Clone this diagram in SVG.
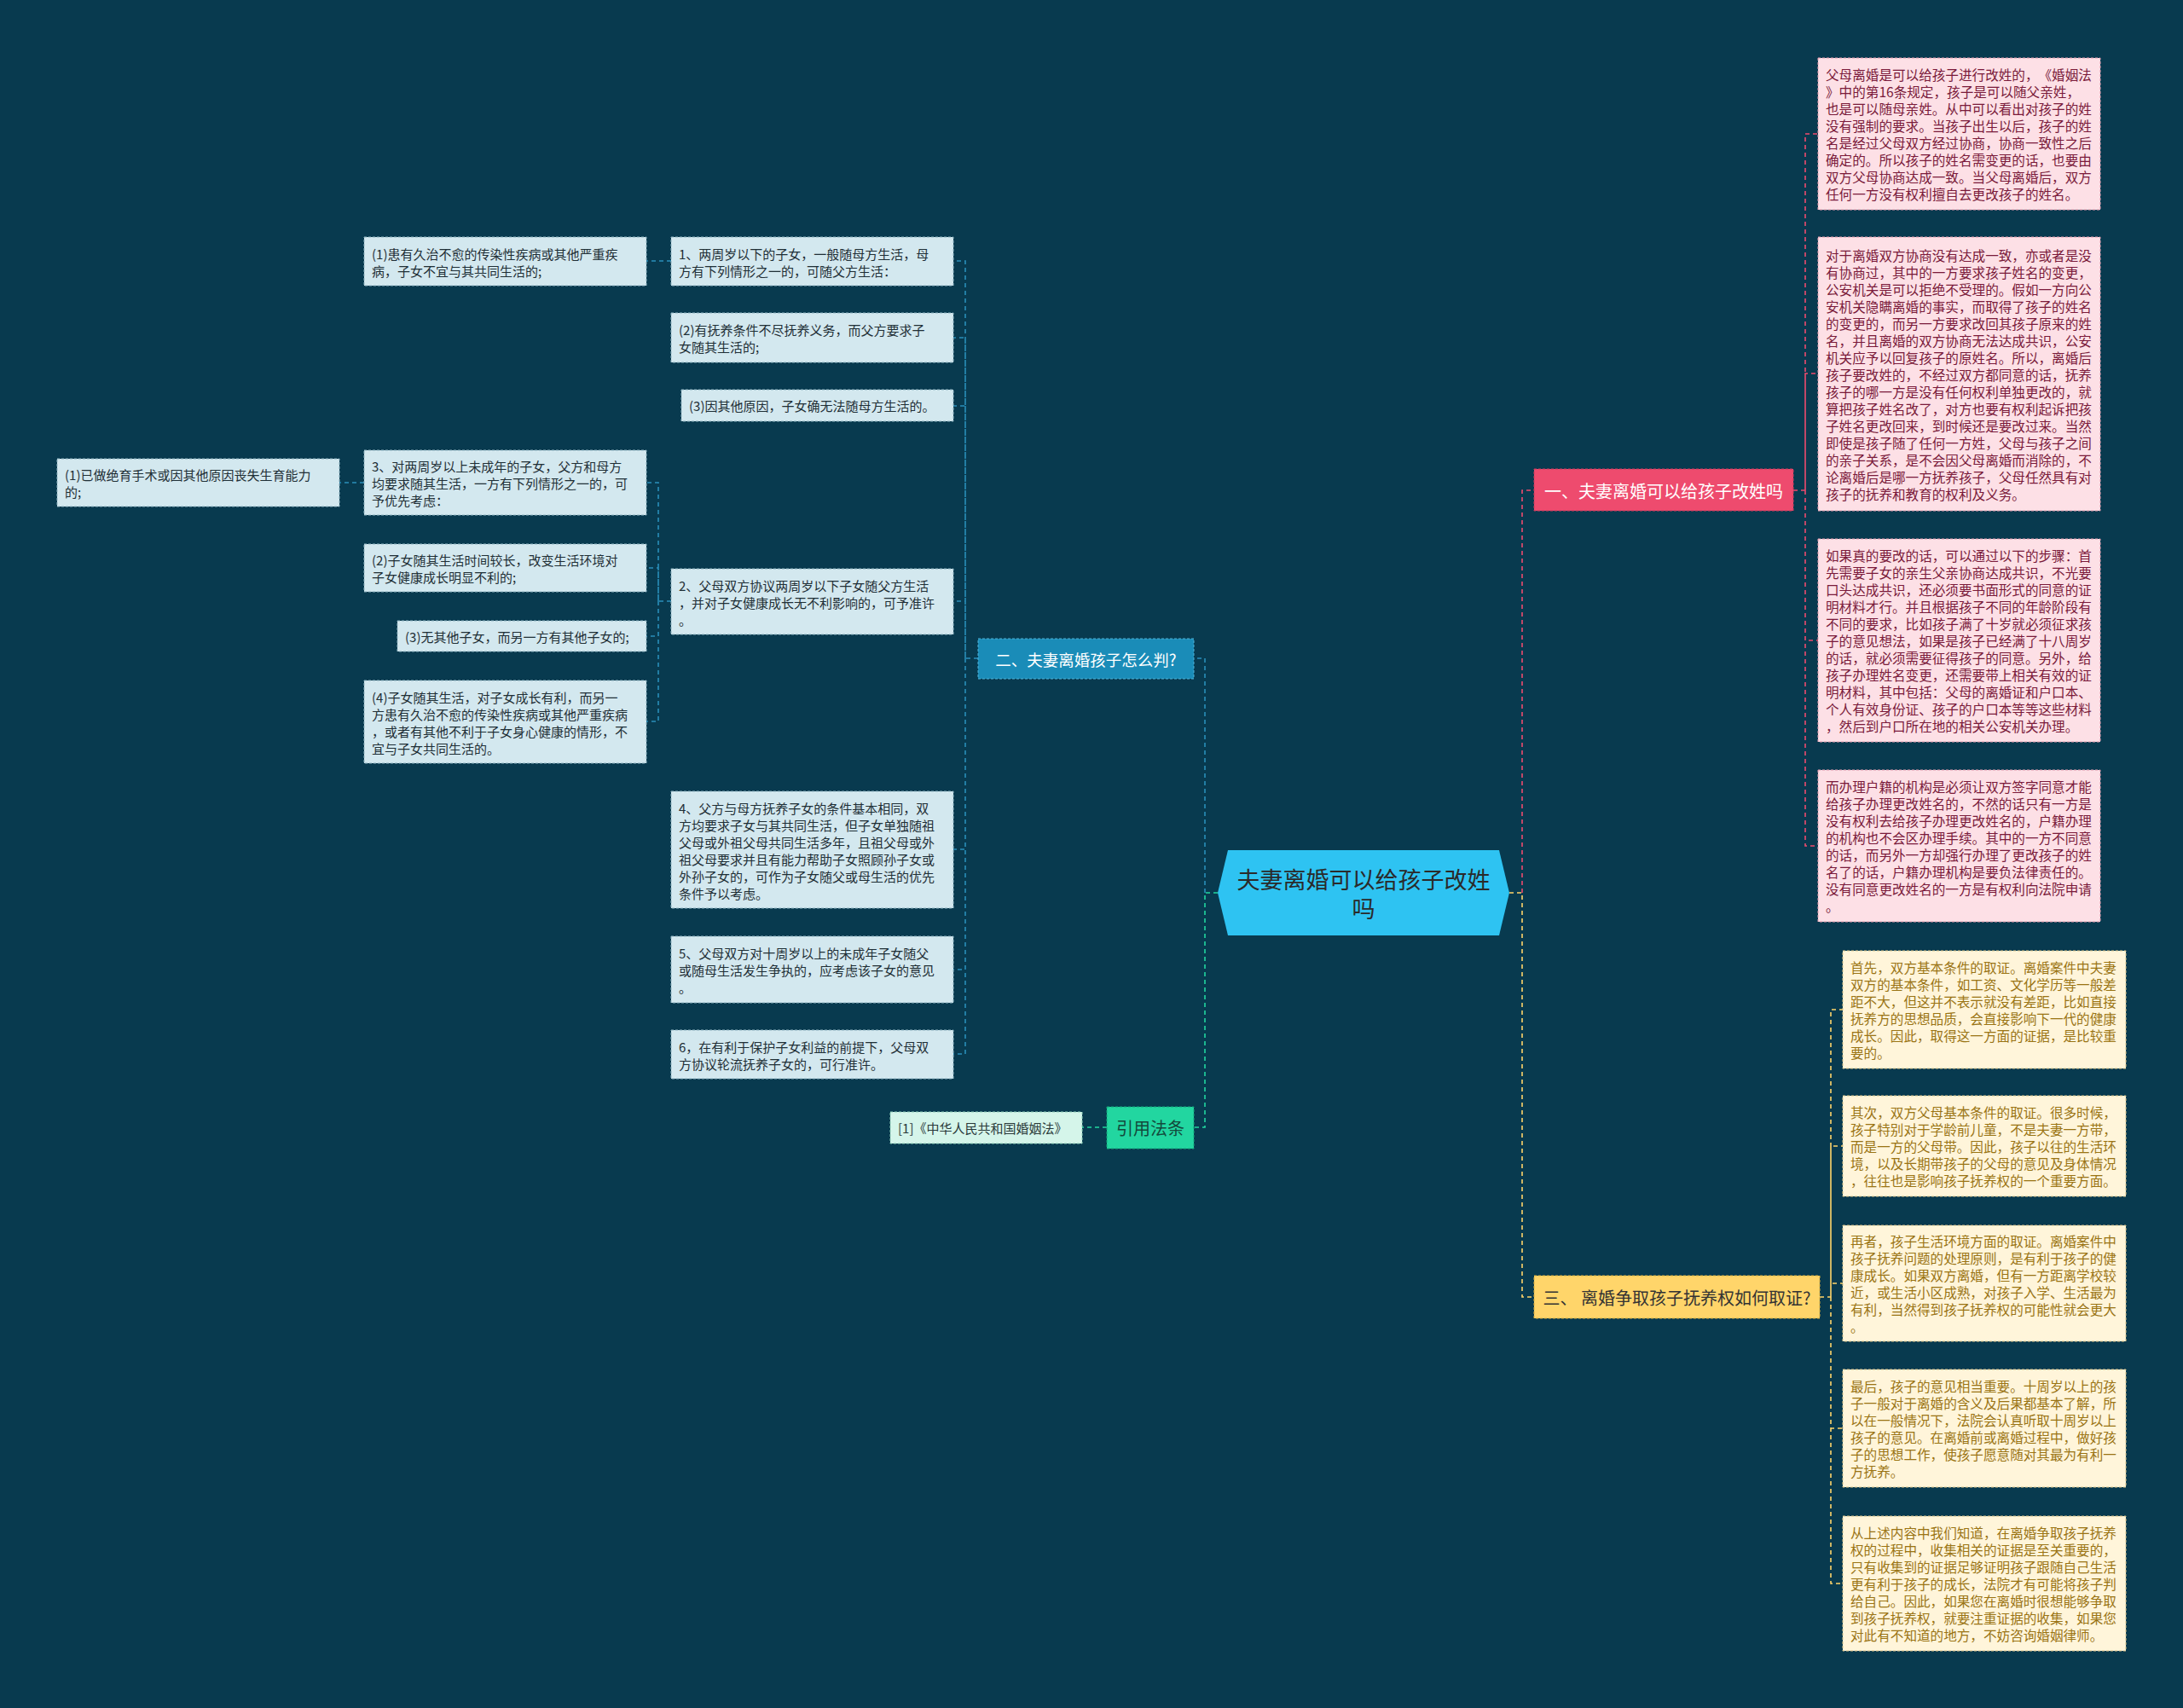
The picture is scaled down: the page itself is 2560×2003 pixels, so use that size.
<svg xmlns="http://www.w3.org/2000/svg" width="2560" height="2003" viewBox="0 0 2560 2003">
<style>
text{font-family:"Noto Sans CJK SC","Noto Sans",sans-serif;dominant-baseline:central;text-spacing-trim:space-all}
.pk rect{fill:#fde0e6;stroke:#e39aae;stroke-width:1;stroke-dasharray:3 2}
.pk text{fill:#7a1a3a;font-size:15.6px}
.yl rect{fill:#fff5da;stroke:#dcc488;stroke-width:1;stroke-dasharray:3 2}
.yl text{fill:#9a7414;font-size:15.6px}
.bl rect{fill:#d3e8ef;stroke:#8fb4c2;stroke-width:1;stroke-dasharray:3 2}
.bl text{fill:#1f2f36;font-size:15px}
.ln{fill:none;stroke-width:1.6;stroke-dasharray:5 4}
.lp{stroke:#ee4b6e}.ly{stroke:#ffd56a}.lb{stroke:#2a8fba}.lg{stroke:#22d6a0}
.br text{font-size:20px}
</style>
<rect width="2560" height="2003" fill="#083a4f"/>
<g id="connectors">
<path class="ln ly" d="M1770,1047 H1785 V1521 H1799"/>
<path class="ln lp" d="M1785,1047 V575 H1799"/>
<path class="ln lp" d="M2103,575 H2117 V157 H2132 M2117,575 V438 H2132 M2117,575 V751 H2132 M2117,575 V992 H2132"/>
<path class="ln ly" d="M2134,1521 H2147 V1184 H2161 M2147,1521 V1344 H2161 M2147,1521 V1505 H2161 M2147,1521 V1675 H2161 M2147,1521 V1857 H2161"/>
<path class="ln lg" d="M1428,1047 H1413 V1322 H1400"/>
<path class="ln lb" d="M1413,1047 V772 H1400"/>
<path class="ln lg" d="M1298,1322 H1269"/>
<path class="ln lb" d="M1147,772 H1132 V306 H1118 M1132,772 V396 H1118 M1132,772 V476 H1118 M1132,772 V705 H1118 M1132,772 V996 H1118 M1132,772 V1137 H1118 M1132,772 V1236 H1118"/>
<path class="ln lb" d="M787,306 H758"/>
<path class="ln lb" d="M787,705 H772 V566 H758 M772,705 V666 H758 M772,705 V746 H758 M772,705 V846 H758"/>
<path class="ln lb" d="M427,566 H398"/>
</g>
<g id="center">
<polygon points="1428,1047 1440,997 1758,997 1770,1047 1758,1097 1440,1097" fill="#2ec3f2"/>
<text x="1599" y="1030" text-anchor="middle" font-size="27" fill="#2a2a2a">夫妻离婚可以给孩子改姓</text>
<text x="1599" y="1064" text-anchor="middle" font-size="27" fill="#2a2a2a">吗</text>
</g>
<g id="branch1" class="br">
<rect x="1799" y="550" width="304" height="49" fill="#ee4b6e" stroke="#c93b5c" stroke-dasharray="3 2"/>
<text x="1951" y="575" text-anchor="middle" fill="#ffffff">一、夫妻离婚可以给孩子改姓吗</text>
</g>
<g id="branch2" class="br">
<rect x="1147" y="749" width="253" height="47" fill="#1a8cb8" stroke="#4fb2d8" stroke-dasharray="3 2"/>
<text x="1273.5" y="772.5" text-anchor="middle" fill="#ffffff" style="font-size:18.5px">二、夫妻离婚孩子怎么判?</text>
</g>
<g id="branch3" class="br">
<rect x="1799" y="1496" width="335" height="50" fill="#ffd56a" stroke="#d8ad3e" stroke-dasharray="3 2"/>
<text x="1966.5" y="1521" text-anchor="middle" fill="#333333">三、 离婚争取孩子抚养权如何取证?</text>
</g>
<g id="cite" class="br">
<rect x="1298" y="1298" width="102" height="49" fill="#22d6a0" stroke="#14a57a" stroke-dasharray="3 2"/>
<text x="1349" y="1322.5" text-anchor="middle" fill="#134a3c">引用法条</text>
</g>
<g id="cite1">
<rect x="1044" y="1304" width="225" height="37" fill="#d5f5ea" stroke="#8fcfb8" stroke-dasharray="3 2"/>
<text x="1053" y="1322.5" font-size="15" fill="#2a3a3a">[1]《中华人民共和国婚姻法》</text>
</g>
<g id="p1" class="pk">
<rect x="2132" y="68" width="331" height="178"/>
<text x="2141" y="87"><tspan x="2141">父母离婚是可以给孩子进行改姓的，《婚姻法</tspan><tspan x="2141" dy="20">》中的第16条规定，孩子是可以随父亲姓，</tspan><tspan x="2141" dy="20">也是可以随母亲姓。从中可以看出对孩子的姓</tspan><tspan x="2141" dy="20">没有强制的要求。当孩子出生以后，孩子的姓</tspan><tspan x="2141" dy="20">名是经过父母双方经过协商，协商一致性之后</tspan><tspan x="2141" dy="20">确定的。所以孩子的姓名需变更的话，也要由</tspan><tspan x="2141" dy="20">双方父母协商达成一致。当父母离婚后，双方</tspan><tspan x="2141" dy="20">任何一方没有权利擅自去更改孩子的姓名。</tspan></text>
</g>
<g id="p2" class="pk">
<rect x="2132" y="278" width="331" height="321"/>
<text x="2141" y="298.5"><tspan x="2141">对于离婚双方协商没有达成一致，亦或者是没</tspan><tspan x="2141" dy="20">有协商过，其中的一方要求孩子姓名的变更，</tspan><tspan x="2141" dy="20">公安机关是可以拒绝不受理的。假如一方向公</tspan><tspan x="2141" dy="20">安机关隐瞒离婚的事实，而取得了孩子的姓名</tspan><tspan x="2141" dy="20">的变更的，而另一方要求改回其孩子原来的姓</tspan><tspan x="2141" dy="20">名，并且离婚的双方协商无法达成共识，公安</tspan><tspan x="2141" dy="20">机关应予以回复孩子的原姓名。所以，离婚后</tspan><tspan x="2141" dy="20">孩子要改姓的，不经过双方都同意的话，抚养</tspan><tspan x="2141" dy="20">孩子的哪一方是没有任何权利单独更改的，就</tspan><tspan x="2141" dy="20">算把孩子姓名改了，对方也要有权利起诉把孩</tspan><tspan x="2141" dy="20">子姓名更改回来，到时候还是要改过来。当然</tspan><tspan x="2141" dy="20">即使是孩子随了任何一方姓，父母与孩子之间</tspan><tspan x="2141" dy="20">的亲子关系，是不会因父母离婚而消除的，不</tspan><tspan x="2141" dy="20">论离婚后是哪一方抚养孩子，父母任然具有对</tspan><tspan x="2141" dy="20">孩子的抚养和教育的权利及义务。</tspan></text>
</g>
<g id="p3" class="pk">
<rect x="2132" y="632" width="331" height="238"/>
<text x="2141" y="651"><tspan x="2141">如果真的要改的话，可以通过以下的步骤：首</tspan><tspan x="2141" dy="20">先需要子女的亲生父亲协商达成共识，不光要</tspan><tspan x="2141" dy="20">口头达成共识，还必须要书面形式的同意的证</tspan><tspan x="2141" dy="20">明材料才行。并且根据孩子不同的年龄阶段有</tspan><tspan x="2141" dy="20">不同的要求，比如孩子满了十岁就必须征求孩</tspan><tspan x="2141" dy="20">子的意见想法，如果是孩子已经满了十八周岁</tspan><tspan x="2141" dy="20">的话，就必须需要征得孩子的同意。另外，给</tspan><tspan x="2141" dy="20">孩子办理姓名变更，还需要带上相关有效的证</tspan><tspan x="2141" dy="20">明材料，其中包括：父母的离婚证和户口本、</tspan><tspan x="2141" dy="20">个人有效身份证、孩子的户口本等等这些材料</tspan><tspan x="2141" dy="20">，然后到户口所在地的相关公安机关办理。</tspan></text>
</g>
<g id="p4" class="pk">
<rect x="2132" y="903" width="331" height="178"/>
<text x="2141" y="922"><tspan x="2141">而办理户籍的机构是必须让双方签字同意才能</tspan><tspan x="2141" dy="20">给孩子办理更改姓名的，不然的话只有一方是</tspan><tspan x="2141" dy="20">没有权利去给孩子办理更改姓名的，户籍办理</tspan><tspan x="2141" dy="20">的机构也不会区办理手续。其中的一方不同意</tspan><tspan x="2141" dy="20">的话，而另外一方却强行办理了更改孩子的姓</tspan><tspan x="2141" dy="20">名了的话，户籍办理机构是要负法律责任的。</tspan><tspan x="2141" dy="20">没有同意更改姓名的一方是有权利向法院申请</tspan><tspan x="2141" dy="20">。</tspan></text>
</g>
<g id="y1" class="yl">
<rect x="2161" y="1115" width="332" height="138"/>
<text x="2170" y="1134"><tspan x="2170">首先，双方基本条件的取证。离婚案件中夫妻</tspan><tspan x="2170" dy="20">双方的基本条件，如工资、文化学历等一般差</tspan><tspan x="2170" dy="20">距不大，但这并不表示就没有差距，比如直接</tspan><tspan x="2170" dy="20">抚养方的思想品质，会直接影响下一代的健康</tspan><tspan x="2170" dy="20">成长。因此，取得这一方面的证据，是比较重</tspan><tspan x="2170" dy="20">要的。</tspan></text>
</g>
<g id="y2" class="yl">
<rect x="2161" y="1285" width="332" height="118"/>
<text x="2170" y="1304"><tspan x="2170">其次，双方父母基本条件的取证。很多时候，</tspan><tspan x="2170" dy="20">孩子特别对于学龄前儿童，不是夫妻一方带，</tspan><tspan x="2170" dy="20">而是一方的父母带。因此，孩子以往的生活环</tspan><tspan x="2170" dy="20">境，以及长期带孩子的父母的意见及身体情况</tspan><tspan x="2170" dy="20">，往往也是影响孩子抚养权的一个重要方面。</tspan></text>
</g>
<g id="y3" class="yl">
<rect x="2161" y="1437" width="332" height="136"/>
<text x="2170" y="1455"><tspan x="2170">再者，孩子生活环境方面的取证。离婚案件中</tspan><tspan x="2170" dy="20">孩子抚养问题的处理原则，是有利于孩子的健</tspan><tspan x="2170" dy="20">康成长。如果双方离婚，但有一方距离学校较</tspan><tspan x="2170" dy="20">近，或生活小区成熟，对孩子入学、生活最为</tspan><tspan x="2170" dy="20">有利，当然得到孩子抚养权的可能性就会更大</tspan><tspan x="2170" dy="20">。</tspan></text>
</g>
<g id="y4" class="yl">
<rect x="2161" y="1606" width="332" height="138"/>
<text x="2170" y="1625"><tspan x="2170">最后，孩子的意见相当重要。十周岁以上的孩</tspan><tspan x="2170" dy="20">子一般对于离婚的含义及后果都基本了解，所</tspan><tspan x="2170" dy="20">以在一般情况下，法院会认真听取十周岁以上</tspan><tspan x="2170" dy="20">孩子的意见。在离婚前或离婚过程中，做好孩</tspan><tspan x="2170" dy="20">子的思想工作，使孩子愿意随对其最为有利一</tspan><tspan x="2170" dy="20">方抚养。</tspan></text>
</g>
<g id="y5" class="yl">
<rect x="2161" y="1778" width="332" height="158"/>
<text x="2170" y="1797"><tspan x="2170">从上述内容中我们知道，在离婚争取孩子抚养</tspan><tspan x="2170" dy="20">权的过程中，收集相关的证据是至关重要的，</tspan><tspan x="2170" dy="20">只有收集到的证据足够证明孩子跟随自己生活</tspan><tspan x="2170" dy="20">更有利于孩子的成长，法院才有可能将孩子判</tspan><tspan x="2170" dy="20">给自己。因此，如果您在离婚时很想能够争取</tspan><tspan x="2170" dy="20">到孩子抚养权，就要注重证据的收集，如果您</tspan><tspan x="2170" dy="20">对此有不知道的地方，不妨咨询婚姻律师。</tspan></text>
</g>
<g id="l1" class="bl">
<rect x="787" y="278" width="331" height="57"/>
<text x="796" y="296.5"><tspan x="796">1、两周岁以下的子女，一般随母方生活，母</tspan><tspan x="796" dy="20">方有下列情形之一的，可随父方生活：</tspan></text>
</g>
<g id="l1b" class="bl">
<rect x="787" y="367" width="331" height="58"/>
<text x="796" y="386"><tspan x="796">(2)有抚养条件不尽抚养义务，而父方要求子</tspan><tspan x="796" dy="20">女随其生活的;</tspan></text>
</g>
<g id="l1c" class="bl">
<rect x="799" y="457" width="319" height="37"/>
<text x="808" y="475.5">(3)因其他原因，子女确无法随母方生活的。</text>
</g>
<g id="l2" class="bl">
<rect x="787" y="667" width="331" height="77"/>
<text x="796" y="685.5"><tspan x="796">2、父母双方协议两周岁以下子女随父方生活</tspan><tspan x="796" dy="20">，并对子女健康成长无不利影响的，可予准许</tspan><tspan x="796" dy="20">。</tspan></text>
</g>
<g id="l4" class="bl">
<rect x="787" y="928" width="331" height="137"/>
<text x="796" y="946.5"><tspan x="796">4、父方与母方抚养子女的条件基本相同，双</tspan><tspan x="796" dy="20">方均要求子女与其共同生活，但子女单独随祖</tspan><tspan x="796" dy="20">父母或外祖父母共同生活多年，且祖父母或外</tspan><tspan x="796" dy="20">祖父母要求并且有能力帮助子女照顾孙子女或</tspan><tspan x="796" dy="20">外孙子女的，可作为子女随父或母生活的优先</tspan><tspan x="796" dy="20">条件予以考虑。</tspan></text>
</g>
<g id="l5" class="bl">
<rect x="787" y="1098" width="331" height="78"/>
<text x="796" y="1117"><tspan x="796">5、父母双方对十周岁以上的未成年子女随父</tspan><tspan x="796" dy="20">或随母生活发生争执的，应考虑该子女的意见</tspan><tspan x="796" dy="20">。</tspan></text>
</g>
<g id="l6" class="bl">
<rect x="787" y="1208" width="331" height="57"/>
<text x="796" y="1226.5"><tspan x="796">6，在有利于保护子女利益的前提下，父母双</tspan><tspan x="796" dy="20">方协议轮流抚养子女的，可行准许。</tspan></text>
</g>
<g id="c1" class="bl">
<rect x="427" y="278" width="331" height="57"/>
<text x="436" y="296.5"><tspan x="436">(1)患有久治不愈的传染性疾病或其他严重疾</tspan><tspan x="436" dy="20">病，子女不宜与其共同生活的;</tspan></text>
</g>
<g id="c3" class="bl">
<rect x="427" y="528" width="331" height="76"/>
<text x="436" y="546"><tspan x="436">3、对两周岁以上未成年的子女，父方和母方</tspan><tspan x="436" dy="20">均要求随其生活，一方有下列情形之一的，可</tspan><tspan x="436" dy="20">予优先考虑：</tspan></text>
</g>
<g id="c2" class="bl">
<rect x="427" y="638" width="331" height="56"/>
<text x="436" y="656"><tspan x="436">(2)子女随其生活时间较长，改变生活环境对</tspan><tspan x="436" dy="20">子女健康成长明显不利的;</tspan></text>
</g>
<g id="c33" class="bl">
<rect x="466" y="728" width="292" height="36"/>
<text x="475" y="746">(3)无其他子女，而另一方有其他子女的;</text>
</g>
<g id="c4" class="bl">
<rect x="427" y="798" width="331" height="97"/>
<text x="436" y="816.5"><tspan x="436">(4)子女随其生活，对子女成长有利，而另一</tspan><tspan x="436" dy="20">方患有久治不愈的传染性疾病或其他严重疾病</tspan><tspan x="436" dy="20">，或者有其他不利于子女身心健康的情形，不</tspan><tspan x="436" dy="20">宜与子女共同生活的。</tspan></text>
</g>
<g id="f1" class="bl">
<rect x="67" y="538" width="331" height="56"/>
<text x="76" y="556"><tspan x="76">(1)已做绝育手术或因其他原因丧失生育能力</tspan><tspan x="76" dy="20">的;</tspan></text>
</g>
</svg>
